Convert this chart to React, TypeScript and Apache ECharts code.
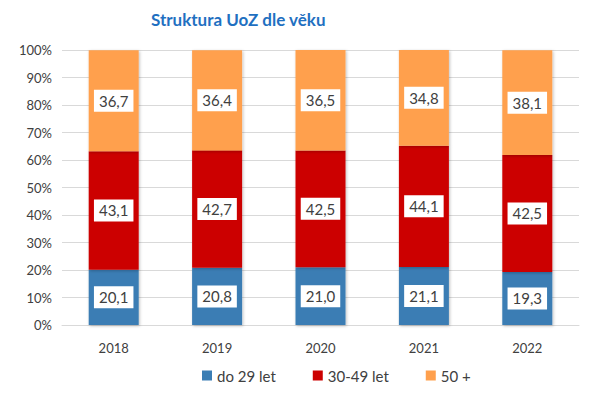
import React, { useEffect, useRef } from "react";
import * as echarts from "echarts";

const years = ["2018", "2019", "2020", "2021", "2022"];
const young = [20.1, 20.8, 21.0, 21.1, 19.3];
const middle = [43.1, 42.7, 42.5, 44.1, 42.5];
const older = [36.7, 36.4, 36.5, 34.8, 38.1];
const seriesNames = ["do 29 let", "30-49 let", "50 +"];
const colors = ["#3A7DB4", "#CC0000", "#FFA04D"];

const fmt = (v: number) => v.toFixed(1).replace(".", ",");

export default function App() {
  const ref = useRef<HTMLDivElement>(null);
  useEffect(() => {
    const chart = echarts.init(ref.current!, null, { renderer: "svg" });
    const label = {
      show: true,
      position: "inside" as const,
      formatter: (p: any) => fmt(p.value),
      backgroundColor: "#fff",
      color: "#404040",
      fontSize: 15,
      fontFamily: "Lato, 'Open Sans', sans-serif",
      padding: [4, 5, 3, 5],
    };
    const datasets = [young, middle, older];
    chart.setOption({
      animation: false,
      title: {
        text: "Struktura UoZ dle věku",
        left: 146,
        top: 6,
        textStyle: {
          color: "#1F70C1",
          fontSize: 17,
          fontWeight: "bold",
          fontFamily: "Lato, 'Open Sans', sans-serif",
        },
      },
      legend: {
        bottom: 5,
        left: 197,
        itemWidth: 10,
        itemHeight: 10,
        itemGap: 37,
        icon: "rect",
        textStyle: { color: "#404040", fontSize: 15, fontFamily: "Lato, 'Open Sans', sans-serif" },
        data: seriesNames,
      },
      grid: { left: 62, right: 21, top: 50, bottom: 68 },
      xAxis: {
        type: "category",
        data: years,
        axisLine: { show: true, lineStyle: { color: "#d9d9d9" } },
        axisTick: { show: false },
        axisLabel: { color: "#404040", fontSize: 13, margin: 16, fontFamily: "Lato, 'Open Sans', sans-serif" },
      },
      yAxis: {
        type: "value",
        min: 0,
        max: 100,
        interval: 10,
        axisLine: { show: false },
        axisTick: { show: false },
        splitLine: { lineStyle: { color: "#d9d9d9" } },
        axisLabel: {
          formatter: "{value}%",
          color: "#404040",
          fontSize: 13,
          margin: 10,
          fontFamily: "Lato, 'Open Sans', sans-serif",
        },
      },
      series: datasets.map((d, i) => ({
        name: seriesNames[i],
        type: "bar",
        stack: "total",
        barWidth: 50,
        data: d,
        itemStyle: {
          color: colors[i],
          shadowColor: "rgba(0,0,0,0.25)",
          shadowBlur: 3,
          shadowOffsetX: 1,
          shadowOffsetY: 1,
        },
        label,
      })),
    });
    return () => chart.dispose();
  }, []);
  return <div ref={ref} style={{ width: 600, height: 393, position: "absolute", left: 0, top: 0 }} />;
}
